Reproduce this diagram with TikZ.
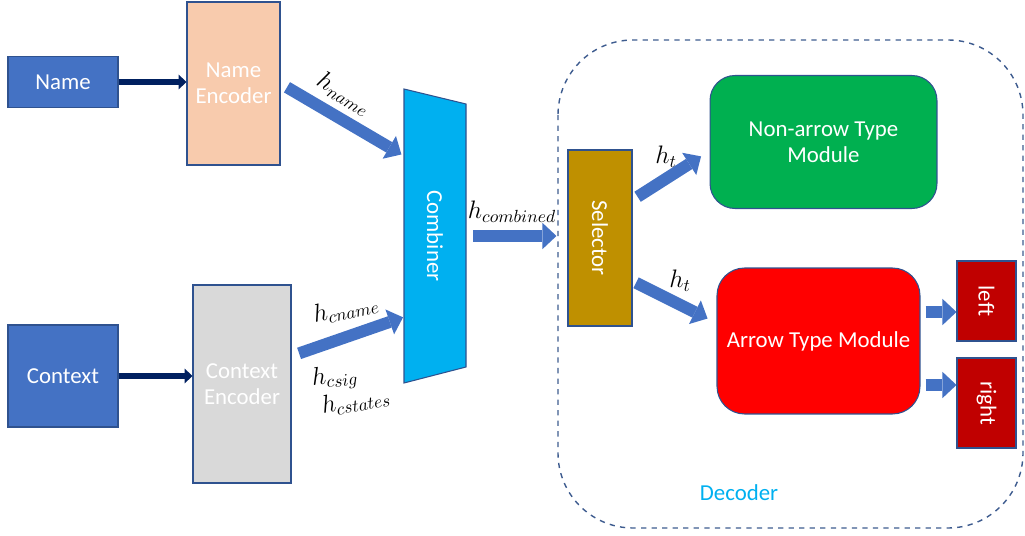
\documentclass[tikz,border=0pt]{standalone}
\usepackage{fontspec}
\setmainfont{Carlito}
\usepackage{amsmath}
\usetikzlibrary{arrows.meta}

\definecolor{boxblue}{HTML}{4472C4}
\definecolor{edgeblue}{HTML}{2F528F}
\definecolor{navy}{HTML}{002060}
\definecolor{peach}{HTML}{F8CBAD}
\definecolor{lightgray}{HTML}{D9D9D9}
\definecolor{cyanfill}{HTML}{00B0F0}
\definecolor{gold}{HTML}{BF9000}
\definecolor{modgreen}{HTML}{00B050}
\definecolor{modred}{HTML}{FF0000}
\definecolor{darkred}{HTML}{C00000}
\definecolor{dashblue}{HTML}{3E5C8F}

\begin{document}
\begin{tikzpicture}[x=0.02cm, y=-0.02cm,
		box/.style={draw=edgeblue, line width=0.6pt, text=white, align=center, inner sep=0pt,
			font=\fontsize{13}{15}\selectfont},
		blockarrow/.style={draw=boxblue, line width=6.8pt,
			-{Triangle[length=8pt, width=15pt, line width=0pt]}},
		navyarrow/.style={draw=navy, line width=3.8pt,
			-{Triangle[length=4.5pt, width=8.5pt, line width=0pt]}},
		lbl/.style={font=\fontsize{14}{16}\selectfont, inner sep=0pt}]
		\useasboundingbox (0,0) rectangle (1025,536);
		% decoder frame
		\draw[dashblue, line width=0.8pt, dashed, rounded corners=1.5cm] (558,40) rectangle (1023,528);
		\node[text=cyanfill, font=\fontsize{13}{15}\selectfont] (decoder) at (739,493) {Decoder};
		% inputs and encoders
		\node[box, fill=boxblue, minimum width=2.2cm, minimum height=1.02cm] (name) at (63,82) {Name};
		\node[box, fill=peach, minimum width=1.86cm, minimum height=3.26cm] (nameenc) at (233.5,83.5) {Name\\Encoder};
		\node[box, fill=boxblue, minimum width=2.2cm, minimum height=2.04cm] (context) at (63,376) {Context};
		\node[box, fill=lightgray, minimum width=1.96cm, minimum height=3.96cm] (ctxenc) at (242,384) {Context\\Encoder};
		% combiner
		\draw[fill=cyanfill, draw=edgeblue, line width=0.6pt]
			(404,89) -- (466,104) -- (466,367) -- (404,383) -- cycle;
		\coordinate (cin1) at (404,156);
		\coordinate (cin2) at (404,317);
		\coordinate (combE) at (466,236);
		\node[text=white, rotate=-90, font=\fontsize{13}{15}\selectfont] (comb) at (435,236) {Combiner};
		% decoder parts
		\node[box, fill=gold, minimum width=1.28cm, minimum height=3.52cm] (sel) at (600,238) {\rotatebox{-90}{Selector}};
		\node[box, fill=modgreen, rounded corners=0.5cm, minimum width=4.54cm, minimum height=2.66cm] (nonarrow) at (823.5,142) {Non-arrow Type\\Module};
		\node[box, fill=modred, rounded corners=0.55cm, minimum width=4.06cm, minimum height=2.92cm] (arrowmod) at (818.5,341) {Arrow Type Module};
		\node[box, fill=darkred, minimum width=1.18cm, minimum height=1.6cm] (left) at (986.5,301) {\rotatebox{-90}{left}};
		\node[box, fill=darkred, minimum width=1.18cm, minimum height=1.8cm] (right) at (986.5,403) {\rotatebox{-90}{right}};
		% connectors
		\draw[navyarrow] (name.east) -- (name.east -| nameenc.west);
		\draw[navyarrow] (context.east) -- (context.east -| ctxenc.west);
		\draw[blockarrow, shorten <=0.15cm, shorten >=0.06cm] (nameenc.east) -- (cin1);
		\draw[blockarrow, shorten <=0.16cm, shorten >=0.02cm] ([yshift=0.56cm]ctxenc.east) -- (cin2);
		\draw[blockarrow, shorten <=0.14cm, shorten >=0.22cm] (combE) -- (combE -| sel.west);
		\draw[blockarrow, shorten <=0.12cm, shorten >=0.2cm] ([yshift=0.76cm]sel.east) -- ([yshift=-0.18cm]nonarrow.west);
		\draw[blockarrow, shorten <=0.08cm, shorten >=0.2cm] ([yshift=-0.86cm]sel.east) -- ([yshift=0.36cm]arrowmod.west);
		\draw[blockarrow, shorten <=0.1cm] ([yshift=0.58cm]arrowmod.east) -- ([yshift=0.58cm]arrowmod.east -| left.west);
		\draw[blockarrow, shorten <=0.1cm] ([yshift=-0.88cm]arrowmod.east) -- ([yshift=-0.88cm]arrowmod.east -| right.west);
		% labels
		\node[lbl, rotate=-31] (lname) at (344,94) {$h_{name}$};
		\node[lbl, rotate=11] (lcname) at (346,309) {$h_{cname}$};
		\node[lbl, rotate=6] (lcsig) at (335,378) {$h_{csig}$};
		\node[lbl, rotate=10] (lcstates) at (356,401) {$h_{cstates}$};
		\node[lbl] (lcomb) at (512,212) {$h_{combined}$};
		\node[lbl] (lt1) at (666,157) {$h_t$};
		\node[lbl] (lt2) at (680,281) {$h_t$};
	\end{tikzpicture}
\end{document}
